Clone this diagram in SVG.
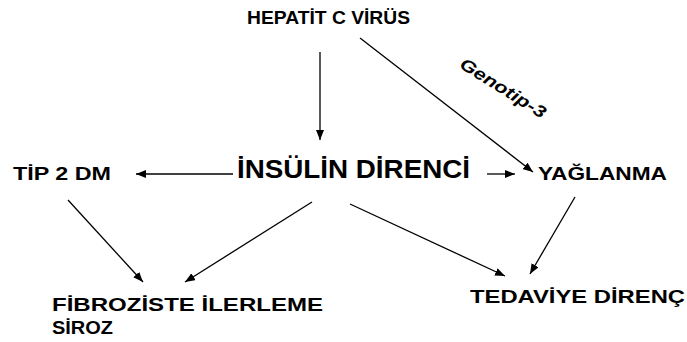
<svg xmlns="http://www.w3.org/2000/svg" width="687" height="342" viewBox="0 0 687 342">
<style>
text{font-family:"Liberation Sans",Arial,sans-serif;font-weight:bold;fill:#000}
.c{stroke:#000;stroke-width:1.3;fill:none;marker-end:url(#ah)}
</style>
<defs>
<marker id="ah" viewBox="0 0 10 8" refX="10" refY="4" markerWidth="10" markerHeight="8" markerUnits="userSpaceOnUse" orient="auto">
<path d="M0,0 L10,4 L0,8 z" fill="#000"/>
</marker>
</defs>
<rect width="687" height="342" fill="#fff"/>
<g id="connectors">
<line class="c" x1="320" y1="52" x2="320" y2="140"/>
<line class="c" x1="360" y1="38" x2="533" y2="172"/>
<line class="c" x1="233" y1="174" x2="136" y2="174"/>
<line class="c" x1="487" y1="174" x2="515" y2="174"/>
<line class="c" x1="68" y1="200" x2="143" y2="282"/>
<line class="c" x1="312" y1="202" x2="185" y2="282"/>
<line class="c" x1="350" y1="204" x2="505" y2="276"/>
<line class="c" x1="575" y1="197" x2="530" y2="274"/>
<text transform="translate(500,93) rotate(32)" text-anchor="middle" font-size="17" font-style="italic" textLength="98" lengthAdjust="spacingAndGlyphs">Genotip-3</text>
</g>
<g id="hcv"><text x="247" y="24" font-size="19" textLength="163" lengthAdjust="spacingAndGlyphs">HEPATİT C VİRÜS</text></g>
<g id="insulin"><text x="237" y="178" font-size="25" textLength="233" lengthAdjust="spacingAndGlyphs">İNSÜLİN DİRENCİ</text></g>
<g id="tip2dm"><text x="13" y="180" font-size="19" textLength="98" lengthAdjust="spacingAndGlyphs">TİP 2 DM</text></g>
<g id="yaglanma"><text x="538" y="180" font-size="19" textLength="129" lengthAdjust="spacingAndGlyphs">YAĞLANMA</text></g>
<g id="fibroz"><text x="52" y="311" font-size="19" textLength="271" lengthAdjust="spacingAndGlyphs">FİBROZİSTE İLERLEME</text><text x="52" y="334" font-size="19" textLength="61" lengthAdjust="spacingAndGlyphs">SİROZ</text></g>
<g id="tedavi"><text x="470" y="303" font-size="19" textLength="215" lengthAdjust="spacingAndGlyphs">TEDAVİYE DİRENÇ</text></g>
</svg>
